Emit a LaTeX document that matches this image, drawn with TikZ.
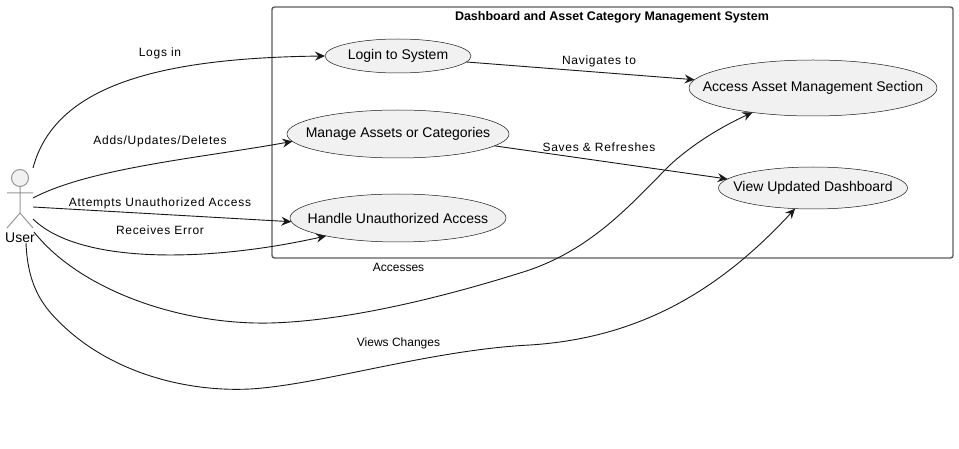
\documentclass[tikz,border=0pt]{standalone}
\usepackage{fontspec}
\setmainfont{Liberation Sans}
\newfontfamily\lblfont[LetterSpace=6]{Liberation Sans}
\usetikzlibrary{arrows.meta,shapes.geometric}
\definecolor{ucfill}{HTML}{F1F1F1}
\definecolor{ucline}{HTML}{181818}
\tikzset{
	usecase/.style={ellipse,draw=ucline,fill=ucfill,line width=0.5pt,inner sep=0pt,outer sep=0pt,font=\fontsize{14}{16}\selectfont},
	actorline/.style={draw=ucline!45,line width=1pt},
	link/.style={->,>={Stealth[length=10pt,width=9pt,inset=3.5pt]},draw=ucline,line width=0.9pt},
	lbl/.style={inner sep=0pt,font=\lblfont\fontsize{12}{14}\selectfont},
	plainlbl/.style={inner sep=0pt,font=\fontsize{12}{14}\selectfont},
}
\newcommand{\uctext}[1]{\makebox[0pt]{#1}}
\begin{document}
\begin{tikzpicture}[x=1pt,y=-1pt]
		\useasboundingbox[fill=white] (0,0) rectangle (959,449);
		%
		\draw[draw=ucline!70,line width=1.4pt,rounded corners=2.5pt] (272,7) rectangle (953,258);
		\node[inner sep=0pt,font=\bfseries\fontsize{12.5}{14}\selectfont] (title) at (612,17) {Dashboard and Asset Category Management System};
		%
		\node[usecase,minimum width=146pt,minimum height=34pt] (login) at (398,56) {\uctext{Login to System}};
		\node[usecase,minimum width=222pt,minimum height=48pt] (manage) at (398,134) {\uctext{Manage Assets or Categories}};
		\node[usecase,minimum width=216pt,minimum height=48pt] (handle) at (398,218) {\uctext{Handle Unauthorized Access}};
		\node[usecase,minimum width=248pt,minimum height=56pt] (access) at (813,88) {\uctext{Access Asset Management Section}};
		\node[usecase,minimum width=189pt,minimum height=42pt] (view) at (813,188) {\uctext{View Updated Dashboard}};
		%
		\draw[actorline,fill=ucfill] (20,178) circle (8.5);
		\draw[actorline] (20,186.5) -- (20,213) (7,193) -- (33,193) (7,228) -- (20,213) -- (33,228);
		\node[inner sep=0pt,font=\fontsize{14}{16}\selectfont] (user) at (20,238) {User};
		%
		\coordinate (u1) at (33,168);
		\coordinate (u2) at (33,198);
		\coordinate (u3) at (33,207);
		\coordinate (u4) at (33,219);
		\coordinate (u5) at (34,232);
		\coordinate (u6) at (26,243);
		%
		\draw[link] (u1) .. controls (55,85) and (160,58) .. (login.180);
		\draw[link] (u2) .. controls (90,168) and (200,158) .. (manage.184);
		\draw[link] (u3) -- (handle.182);
		\draw[link] (u4) .. controls (80,265) and (210,262) .. (handle.194);
		\draw[link] (u5) .. controls (80,290) and (180,325) .. (270,323)
			.. controls (350,321) and (450,295) .. (520,273)
			.. controls (590,252) and (630,205) .. (670,165)
			.. controls (695,142) and (725,125) .. (access.202);
		\draw[link] (u6) .. controls (28,290) and (45,310) .. (70,332)
			.. controls (120,375) and (190,392) .. (250,389)
			.. controls (320,385) and (430,350) .. (530,345)
			.. controls (640,338) and (720,290) .. (view.229);
		\draw[link] (login.-5) -- (access.176);
		\draw[link] (manage.-7) -- (view.174);
		%
		\node[lbl] (logs) at (160,53) {Logs in};
		\node[lbl] (adds) at (160,141) {Adds/Updates/Deletes};
		\node[lbl] (attempts) at (160,203) {Attempts Unauthorized Access};
		\node[lbl] (receives) at (160,230) {Receives Error};
		\node[plainlbl] (accesses) at (398.5,267) {Accesses};
		\node[plainlbl] (views) at (398.5,343) {Views Changes};
		\node[lbl] (navigates) at (599,61) {Navigates to};
		\node[lbl] (saves) at (599,147) {Saves \& Refreshes};
	\end{tikzpicture}
\end{document}
